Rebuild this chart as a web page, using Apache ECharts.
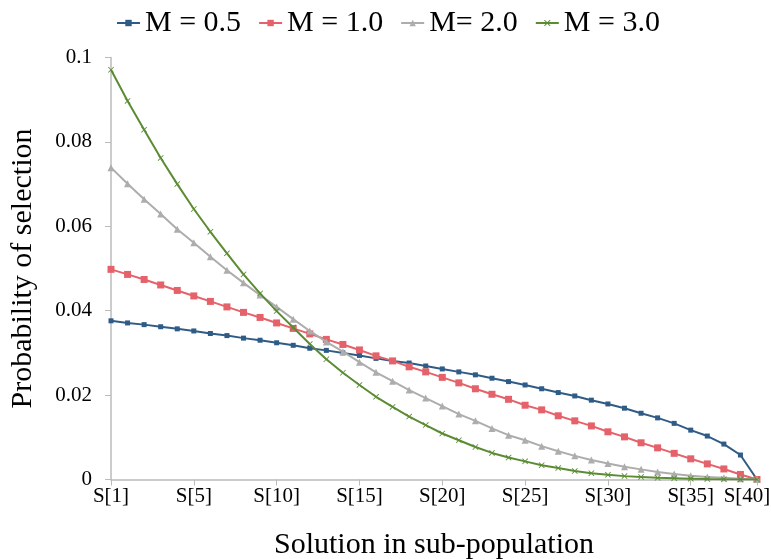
<!DOCTYPE html>
<html>
<head>
<meta charset="utf-8">
<script src="https://cdn.jsdelivr.net/npm/echarts@6/dist/echarts.min.js"></script>
<style>
html,body{margin:0;padding:0;background:#fff;}
#chart{width:771px;height:559px;}
</style>
</head>
<body>
<div id="chart"></div>
<script>
// Solution index positions (0-based) and their tick labels
const xTickValues = [0, 5, 10, 15, 20, 25, 30, 35, 39];
const xTickLabels = ['S[1]', 'S[5]', 'S[10]', 'S[15]', 'S[20]', 'S[25]', 'S[30]', 'S[35]', 'S[40]'];
const yTickLabels = ['0', '0.02', '0.04', '0.06', '0.08', '0.1'];

const seriesNames = ['M = 0.5', 'M = 1.0', 'M= 2.0', 'M = 3.0'];

const m05 = [0.0376, 0.0371, 0.0367, 0.0362, 0.0357, 0.0352, 0.0346, 0.0341, 0.0335, 0.0330,
             0.0324, 0.0318, 0.0311, 0.0306, 0.0300, 0.0294, 0.0287, 0.0281, 0.0276, 0.0269,
             0.0262, 0.0255, 0.0248, 0.0240, 0.0232, 0.0224, 0.0215, 0.0206, 0.0198, 0.0188,
             0.0179, 0.0169, 0.0157, 0.0146, 0.0133, 0.0117, 0.0103, 0.0084, 0.0058, 0];
const m10 = [0.0498, 0.0486, 0.0474, 0.0461, 0.0448, 0.0435, 0.0422, 0.0409, 0.0396, 0.0384,
             0.0371, 0.0358, 0.0345, 0.0332, 0.0320, 0.0307, 0.0293, 0.0281, 0.0267, 0.0255,
             0.0242, 0.0229, 0.0215, 0.0202, 0.0190, 0.0176, 0.0165, 0.0151, 0.0139, 0.0127,
             0.0113, 0.0101, 0.0087, 0.0075, 0.0062, 0.0049, 0.0037, 0.0025, 0.0012, 0];
const m20 = [0.0739, 0.0701, 0.0664, 0.0629, 0.0593, 0.0561, 0.0528, 0.0496, 0.0466, 0.0437,
             0.0409, 0.0380, 0.0352, 0.0326, 0.0303, 0.0278, 0.0254, 0.0233, 0.0212, 0.0193,
             0.0174, 0.0155, 0.0139, 0.0121, 0.0105, 0.0093, 0.0079, 0.0067, 0.0056, 0.0046,
             0.0038, 0.0030, 0.0024, 0.0018, 0.0013, 0.0009, 0.0006, 0.0004, 0.0002, 0];
const m30 = [0.0971, 0.0897, 0.0829, 0.0762, 0.0700, 0.0641, 0.0587, 0.0536, 0.0486, 0.0441,
             0.0399, 0.0360, 0.0321, 0.0285, 0.0253, 0.0224, 0.0196, 0.0172, 0.0149, 0.0129,
             0.0109, 0.0093, 0.0077, 0.0063, 0.0052, 0.0043, 0.0034, 0.0027, 0.0020, 0.0015,
             0.0011, 0.0008, 0.0006, 0.0004, 0.0003, 0.0002, 0.0001, 0.00005, 0.00001, 0];

const FONT = '"Liberation Serif", "Times New Roman", serif';
const colors = ['#2F5B87', '#E5626A', '#ADADAD', '#5B8C33'];
const xPath = 'path://M0,1L1,0L5,4L9,0L10,1L6,5L10,9L9,10L5,6L1,10L0,9L4,5Z';
const symbols = ['rect', 'rect', 'triangle', xPath];
const symbolSizes = [5, 7, 7, 6];

function pts(arr) { return arr.map((v, i) => [i, v]); }
const allData = [m05, m10, m20, m30];

const chart = echarts.init(document.getElementById('chart'), null, {renderer: 'canvas'});
chart.setOption({
  animation: false,
  backgroundColor: '#ffffff',
  color: colors,
  legend: {
    top: 3,
    left: 111,
    itemWidth: 23,
    itemHeight: 8,
    itemGap: 17,
    textStyle: { fontFamily: FONT, fontSize: 30, color: '#000' },
    data: seriesNames
  },
  grid: { left: 111, right: 14, top: 57.5, height: 422, containLabel: false, outerBoundsMode: 'none' },
  xAxis: {
    type: 'value',
    min: 0,
    max: 39,
    interval: 5,
    name: 'Solution in sub-population',
    nameLocation: 'middle',
    nameGap: 51,
    nameTextStyle: { fontFamily: FONT, fontSize: 30, color: '#000' },
    axisLine: { show: true, lineStyle: { color: '#BBBBBB', width: 1.5 } },
    axisTick: { show: true, length: 6, lineStyle: { color: '#BBBBBB' } },
    splitLine: { show: false },
    axisLabel: {
      margin: 6,
      fontFamily: FONT, fontSize: 21, color: '#000',
      rich: {
        last: { fontFamily: FONT, fontSize: 21, color: '#000', padding: [0, 20, 0, 0] }
      },
      formatter: function (v) {
        const k = xTickValues.indexOf(Math.round(v));
        if (k < 0) return '';
        return k === xTickValues.length - 1 ? '{last|' + xTickLabels[k] + '}' : xTickLabels[k];
      }
    }
  },
  yAxis: {
    type: 'value',
    min: 0,
    max: 0.1,
    interval: 0.02,
    name: 'Probability of selection',
    nameLocation: 'middle',
    nameGap: 73,
    nameTextStyle: { fontFamily: FONT, fontSize: 30, color: '#000' },
    axisLine: { show: true, lineStyle: { color: '#BBBBBB', width: 1.5 } },
    axisTick: { show: true, length: 6, lineStyle: { color: '#BBBBBB' } },
    splitLine: { show: false },
    axisLabel: {
      margin: 19,
      fontFamily: FONT, fontSize: 21, color: '#000',
      padding: [6, 0, 0, 0],
      formatter: function (v) {
        return yTickLabels[Math.round(v / 0.02)];
      }
    }
  },
  series: allData.map((arr, i) => ({
    name: seriesNames[i],
    type: 'line',
    data: pts(arr),
    symbol: symbols[i],
    symbolSize: symbolSizes[i],
    showAllSymbol: true,
    lineStyle: { width: 2, color: colors[i] },
    itemStyle: { color: colors[i] },
    z: 2 + i
  }))
});
</script>
</body>
</html>
